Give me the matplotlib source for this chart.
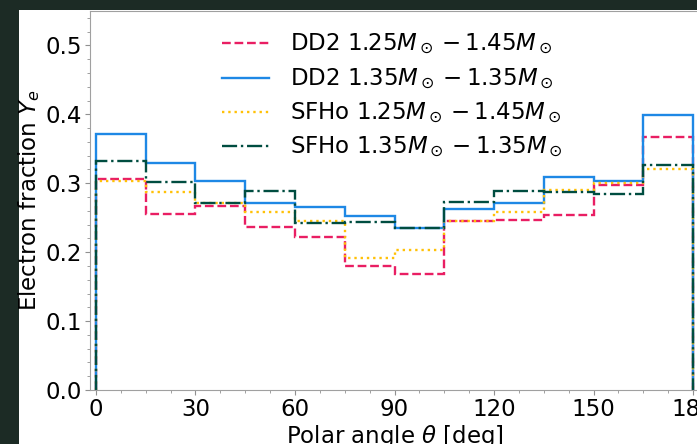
import numpy as np
import matplotlib
matplotlib.use('Agg')
import matplotlib.pyplot as plt
from matplotlib.patches import Rectangle
from matplotlib.lines import Line2D
from matplotlib.ticker import MultipleLocator

# Polar angle bins (deg)
bin_edges = [0, 15, 30, 45, 60, 75, 90, 105, 120, 135, 150, 165, 180]

# Electron fraction Ye per bin
dd2_125_145 = [0.306, 0.255, 0.267, 0.236, 0.222, 0.180, 0.168, 0.245, 0.247, 0.254, 0.298, 0.367]
dd2_135_135 = [0.371, 0.330, 0.304, 0.271, 0.265, 0.252, 0.235, 0.262, 0.271, 0.309, 0.304, 0.399]
sfho_125_145 = [0.304, 0.288, 0.272, 0.258, 0.245, 0.191, 0.203, 0.245, 0.258, 0.290, 0.301, 0.320]
sfho_135_135 = [0.333, 0.302, 0.272, 0.289, 0.242, 0.244, 0.235, 0.273, 0.289, 0.287, 0.285, 0.327]

labels = [r'DD2 $1.25M_\odot-1.45M_\odot$',
          r'DD2 $1.35M_\odot-1.35M_\odot$',
          r'SFHo $1.25M_\odot-1.45M_\odot$',
          r'SFHo $1.35M_\odot-1.35M_\odot$']
colors = ['#e91e63', '#1e88e5', '#ffc107', '#004d40']
styles = ['--', '-', ':', '-.']

FS = 16.5
W, H = 697, 444
fig = plt.figure(figsize=(W / 100, H / 100), dpi=100, facecolor='#1c2b25')
# white slide area (screenshot crop has a dark border left/top)
fig.add_artist(Rectangle((19 / W, 0), 1, 1 - 10 / H, transform=fig.transFigure,
                         facecolor='white', edgecolor='none', zorder=-5))

ax = fig.add_axes([90 / W, 1 - 390 / H, 609 / W, 379 / H])
ax.set_zorder(1)

centers = np.array(bin_edges[:-1]) + 7.5
series = [dd2_125_145, dd2_135_135, sfho_125_145, sfho_135_135]
handles = []
for vals, lab, c, ls in zip(series, labels, colors, styles):
    ax.hist(centers, bins=bin_edges, weights=vals, histtype='step',
            color=c, linestyle=ls, linewidth=1.7)
    handles.append(Line2D([], [], color=c, linestyle=ls, linewidth=1.7, label=lab))

ax.set_xlim(-1.8, 181.8)
ax.set_ylim(0, 0.55)
ax.set_xticks([0, 30, 60, 90, 120, 150, 180])
ax.set_yticks([0.0, 0.1, 0.2, 0.3, 0.4, 0.5])
ax.xaxis.set_minor_locator(MultipleLocator(7.5))
ax.yaxis.set_minor_locator(MultipleLocator(0.02))

for s in ax.spines.values():
    s.set_color('#a0a0a0')
ax.tick_params(which='both', colors='#909090', labelcolor='black', labelsize=FS)
ax.tick_params(which='major', length=3.5, width=0.8, pad=2.5)
ax.tick_params(which='minor', length=2, width=0.6)

ax.set_xlabel(r'Polar angle $\theta$ [deg]', fontsize=FS, labelpad=1)
ax.set_ylabel(r'Electron fraction $Y_e$', fontsize=FS, labelpad=2)

ax.legend(handles=handles, loc='upper left', bbox_to_anchor=(222 / W, 1 - 32 / H),
          bbox_transform=fig.transFigure, frameon=False, fontsize=FS,
          handlelength=2.05, handletextpad=0.9, labelspacing=0.4,
          borderpad=0, borderaxespad=0)

fig.savefig('out.png', dpi=100, facecolor=fig.get_facecolor())
